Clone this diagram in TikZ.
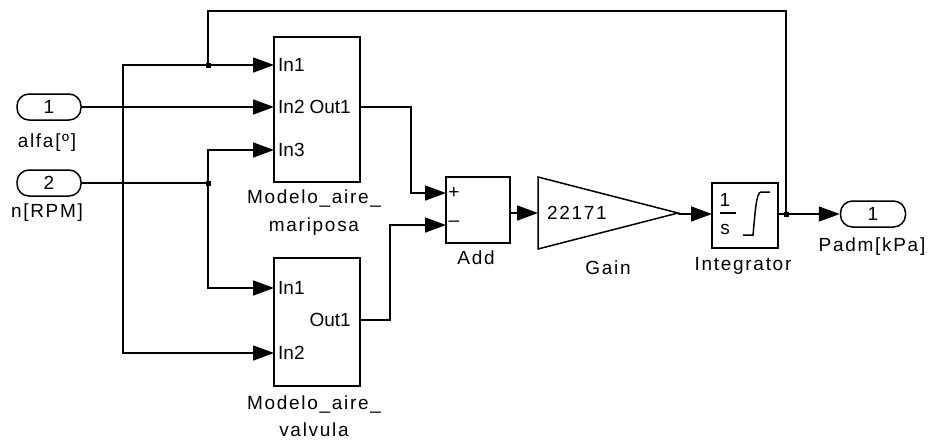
\documentclass[tikz,border=0pt]{standalone}
\usepackage{fontspec}
\setmainfont{Liberation Sans}
\newfontfamily\lblfont[LetterSpace=9]{Liberation Sans}
\usetikzlibrary{arrows.meta}
\begin{document}
\begin{tikzpicture}[x=1pt,y=-1pt,
  wire/.style={line width=1.5pt,line join=miter},
  arr/.style={wire,-{Triangle[length=21pt,width=15pt]}},
  blk/.style={draw,line width=1.5pt,rectangle,inner sep=0pt},
  port/.style={draw,line width=1.5pt,rounded corners=12pt,minimum width=64pt,minimum height=26pt,inner sep=0pt,font=\fontsize{19}{20}\selectfont},
  plab/.style={inner sep=0pt,font=\fontsize{19}{20}\selectfont},
  lbl/.style={inner sep=0pt,font=\lblfont\fontsize{19}{21}\selectfont},
  dot/.style={fill=black,inner sep=0pt,minimum size=5pt,rectangle}]
\useasboundingbox (0,0) rectangle (928,440);
% blocks
\node[port] (ip1) at (49,107) {1};
\node[port] (ip2) at (49,183) {2};
\node[port,minimum width=65pt] (op1) at (873,214) {1};
\node[blk,minimum width=86pt,minimum height=145pt] (mar) at (317,109.5) {};
\node[blk,minimum width=86pt,minimum height=128pt] (val) at (317,322) {};
\node[blk,minimum width=64pt,minimum height=66pt] (add) at (478,210) {};
\node[blk,minimum width=66pt,minimum height=65pt] (int) at (745,215.5) {};
\draw[line width=1.5pt] (538,177) -- (678,213) -- (538,249) -- cycle;
\node[lbl] (gtxt) at (577,213) {22171};
% port texts
\node[plab,anchor=west] at (278,65) {In1};
\node[plab,anchor=west] at (278,107) {In2};
\node[plab,anchor=west] at (278,150) {In3};
\node[plab,anchor=east] at (351,107) {Out1};
\node[plab,anchor=west] at (278,288) {In1};
\node[plab,anchor=west] at (278,353) {In2};
\node[plab,anchor=east] at (351,320) {Out1};
\node[plab,font=\fontsize{19}{20}\selectfont] at (454,193) {+};
\node[plab,font=\fontsize{19}{20}\selectfont] at (454,224) {\textendash};
% integrator icon
\node[plab] at (725,200) {1};
\draw[line width=1.2pt] (720,213) -- (736,213);
\node[plab] at (725,229) {s};
\draw[line width=1.5pt] (743,235) -- (753,235) .. controls (755,215) and (756,192) .. (761,192) -- (770,192);
% labels
\node[lbl] (l1) at (47,143) {alfa[º]};
\node[lbl] (l2) at (47,213) {n[RPM]};
\node[lbl] (lm1) at (314,198) {Modelo\_aire\_};
\node[lbl] (lm2) at (314,227) {mariposa};
\node[lbl] (lv1) at (314,404) {Modelo\_aire\_};
\node[lbl] (lv2) at (314,430) {valvula};
\node[lbl] (la) at (476,258) {Add};
\node[lbl] (lg) at (608,268) {Gain};
\node[lbl] (li) at (743,266) {Integrator};
\node[lbl] (lo) at (872,247) {Padm[kPa]};
% coordinates
\coordinate (marin1) at (274,65);
\coordinate (marin2) at (274,107);
\coordinate (marin3) at (274,150);
\coordinate (marout) at (360,107);
\coordinate (valin1) at (274,288);
\coordinate (valin2) at (274,353);
\coordinate (valout) at (360,320);
\coordinate (addin1) at (446,193);
\coordinate (addin2) at (446,225);
\coordinate (addout) at (510,213);
\coordinate (gin) at (538,213);
\coordinate (gout) at (678,214);
\coordinate (intin) at (712,214);
\coordinate (intout) at (778,214);
\coordinate (jo) at (786,214);
\coordinate (tr) at (786,11);
\coordinate (tl) at (208,11);
\coordinate (jf) at (208,65);
\coordinate (bl) at (123,65);
\coordinate (br) at (123,353);
\coordinate (j2) at (208,183);
\coordinate (j2u) at (208,150);
\coordinate (j2d) at (208,288);
\coordinate (m1) at (411,107);
\coordinate (m2) at (411,193);
\coordinate (v1) at (390,320);
\coordinate (v2) at (390,225);
% connectors
\draw[arr] (ip1.east) -- (marin2);
\draw[wire] (ip2.east) -- (j2);
\draw[arr] (j2) -- (j2u) -- (marin3);
\draw[arr] (j2) -- (j2d) -- (valin1);
\draw[arr] (marout) -- (m1) -- (m2) -- (addin1);
\draw[arr] (valout) -- (v1) -- (v2) -- (addin2);
\draw[arr] (addout) -- (gin);
\draw[arr] (gout) -- (intin);
\draw[arr] (intout) -- (op1.west);
\draw[wire] (jo) -- (tr) -- (tl) -- (jf);
\draw[arr] (jf) -- (marin1);
\draw[arr] (jf) -- (bl) -- (br) -- (valin2);
\node[dot] at (jf) {};
\node[dot] at (j2) {};
\node[dot] at (jo) {};
\end{tikzpicture}
\end{document}
